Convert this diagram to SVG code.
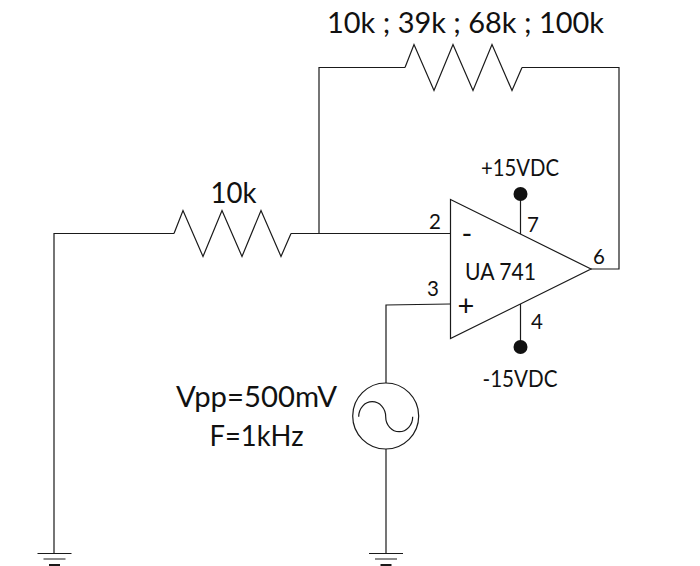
<svg xmlns="http://www.w3.org/2000/svg" width="700" height="566" viewBox="0 0 700 566">
<style>
.w{fill:none;stroke:#1a1a1a;stroke-width:1.2;stroke-linejoin:miter}
.d{fill:#111;stroke:none}
text{font-family:"Lato","Liberation Sans",sans-serif;fill:#111;text-anchor:middle}
.l{font-size:29px}
.m{font-size:23px}
.s{font-size:20.500px}
</style>
<defs>
<g id="gnd" class="w"><path d="M-17 0.500H17M-11 6H11"/><path d="M-5.500 12H5.500" stroke-width="2"/></g>
<path id="zig" class="w" d="M0 0L9 -23L29 23L48 -23L68 23L87 -23L107 23L117 0"/>
</defs>
<rect width="700" height="566" fill="#fff"/>
<g id="connectors" class="w">
<path d="M54 553V233.500H174"/>
<path d="M291 233.500H450"/>
<path d="M319 233.500V67.500H405"/>
<path d="M522 67.500H619V269H591"/>
<path d="M386 383V305L450 304"/>
<path d="M386 449V553"/>
<path d="M520.500 194V234"/>
<path d="M520.500 304V347"/>
</g>
<g id="r-feedback"><use href="#zig" x="405" y="67.500"/><text class="l" x="465.500" y="33" textLength="277" lengthAdjust="spacingAndGlyphs">10k ; 39k ; 68k ; 100k</text></g>
<g id="r-input"><use href="#zig" x="174" y="233.500"/><text class="l" x="233.500" y="202.500" textLength="46" lengthAdjust="spacingAndGlyphs">10k</text></g>
<g id="opamp">
<path d="M450.500 199.500L591 269L450.500 338.500Z" class="w"/>
<text class="m" x="500.500" y="280" textLength="71" lengthAdjust="spacingAndGlyphs">UA 741</text>
<text class="l" x="467" y="244">-</text>
<text class="l" x="466" y="316">+</text>
<text class="s" x="435" y="229">2</text>
<text class="s" x="433" y="295.500">3</text>
<text class="s" x="533" y="232">7</text>
<text class="s" x="537" y="329">4</text>
<text class="s" x="599" y="264">6</text>
</g>
<g id="vcc"><circle class="d" cx="520.500" cy="194" r="7"/><text class="m" x="520" y="176" textLength="78" lengthAdjust="spacingAndGlyphs">+15VDC</text></g>
<g id="vee"><circle class="d" cx="520.500" cy="347" r="7"/><text class="m" x="520" y="387" textLength="75" lengthAdjust="spacingAndGlyphs">-15VDC</text></g>
<g id="source">
<circle class="w" cx="385.700" cy="416" r="33"/>
<path class="w" d="M358.700 416.700A13.500 15 0 0 1 385.700 416.700A13.500 15 0 0 0 412.700 416.700"/>
<text class="l" x="256.500" y="407" textLength="161" lengthAdjust="spacingAndGlyphs">Vpp=500mV</text>
<text class="l" x="256.500" y="446" textLength="94" lengthAdjust="spacingAndGlyphs">F=1kHz</text>
</g>
<g id="gnd-left"><use href="#gnd" x="54.500" y="553"/></g>
<g id="gnd-source"><use href="#gnd" x="386" y="553"/></g>
</svg>
